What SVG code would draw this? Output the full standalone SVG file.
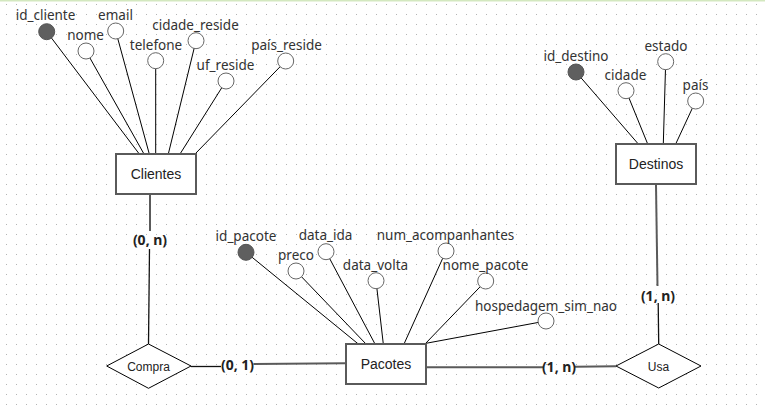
<svg xmlns="http://www.w3.org/2000/svg" width="765" height="412" viewBox="0 0 765 412">
<style>
.ent{fill:#fff;stroke:#5a5a5a;stroke-width:2}
.rel{fill:#fff;stroke:#000;stroke-width:1}
.att{fill:#fff;stroke:#666;stroke-width:1}
.key{fill:#5f5f5f;stroke:#555;stroke-width:1}
.al{stroke:#000;stroke-width:1;fill:none}
.rg{stroke:#5a5a5a;stroke-width:2;fill:none}
.rb{stroke:#111;stroke-width:1.3;fill:none}
.et{font-family:"Liberation Sans",Arial,sans-serif;font-size:14px;fill:#222;text-anchor:middle}
.rt{font-family:"Liberation Sans",Arial,sans-serif;font-size:12px;fill:#222;text-anchor:middle}
.at{font-family:"Noto Sans","Open Sans",sans-serif;font-size:13.5px;fill:#333;text-anchor:middle}
.ct{font-family:"Noto Sans","Open Sans",sans-serif;font-size:14px;font-weight:bold;fill:#222;text-anchor:middle}
</style>
<defs>
<pattern id="grid" x="6" y="4" width="10" height="10" patternUnits="userSpaceOnUse">
<rect x="0" y="0" width="1" height="1" fill="#b4b4b4"/>
</pattern>
</defs>
<rect x="0" y="0" width="765" height="412" fill="#fff"/>
<rect x="0" y="0" width="765" height="412" fill="url(#grid)"/>
<rect x="0" y="0" width="765" height="1.5" fill="#d3e8bf"/>

<g id="connectors">
<!-- Clientes attributes -->
<line class="al" x1="46.7" y1="31.7" x2="139.3" y2="154"/>
<line class="al" x1="86" y1="51" x2="144" y2="154"/>
<line class="al" x1="115.7" y1="31" x2="149.3" y2="154"/>
<line class="al" x1="155.7" y1="60.7" x2="155.7" y2="154"/>
<line class="al" x1="196" y1="40.7" x2="168.3" y2="154"/>
<line class="al" x1="226" y1="81" x2="180" y2="154"/>
<line class="al" x1="285.7" y1="61" x2="195" y2="154"/>
<!-- Destinos attributes -->
<line class="al" x1="576" y1="72" x2="638.3" y2="144"/>
<line class="al" x1="626" y1="90.7" x2="647.7" y2="144"/>
<line class="al" x1="665.7" y1="61.7" x2="663.3" y2="144"/>
<line class="al" x1="695.7" y1="101" x2="675.7" y2="144"/>
<!-- Pacotes attributes -->
<line class="al" x1="246" y1="252.3" x2="358.3" y2="344"/>
<line class="al" x1="296" y1="271" x2="366" y2="344"/>
<line class="al" x1="326" y1="251.7" x2="375" y2="344"/>
<line class="al" x1="376" y1="280.7" x2="383.3" y2="344"/>
<line class="al" x1="446" y1="251" x2="404" y2="344"/>
<line class="al" x1="485.7" y1="281" x2="425" y2="344"/>
<line class="al" x1="546" y1="321" x2="426" y2="343.3"/>
<!-- Relationship lines -->
<line class="rg" x1="150" y1="195" x2="150" y2="231"/>
<line class="rb" x1="149.5" y1="249" x2="148.5" y2="344"/>
<line class="rb" x1="191" y1="366.5" x2="221" y2="366.5"/>
<line class="rg" x1="253.5" y1="364" x2="345" y2="363.3"/>
<line class="rg" x1="427" y1="367.3" x2="544" y2="367.3"/>
<line class="rg" x1="575" y1="366.8" x2="616" y2="366.3"/>
<line class="rg" x1="656" y1="185" x2="657.5" y2="286"/>
<line class="rb" x1="658.2" y1="303" x2="658.7" y2="344"/>
<text class="ct" x="150" y="245">(0, n)</text>
<text class="ct" x="237.5" y="370">(0, 1)</text>
<text class="ct" x="559" y="372">(1, n)</text>
<text class="ct" x="658" y="301">(1, n)</text>
</g>

<g id="clientes">
<rect class="ent" x="116" y="154" width="80" height="40"/>
<text class="et" x="156" y="179">Clientes</text>
</g>
<g id="destinos">
<rect class="ent" x="616" y="144" width="80" height="40"/>
<text class="et" x="656" y="169">Destinos</text>
</g>
<g id="pacotes">
<rect class="ent" x="346" y="344" width="80" height="40"/>
<text class="et" x="386" y="369">Pacotes</text>
</g>
<g id="compra">
<polygon class="rel" points="148.5,344 191,366 148.5,388.3 106.7,366"/>
<text class="rt" x="148.5" y="370.5">Compra</text>
</g>
<g id="usa">
<polygon class="rel" points="658.7,344 701,366 658.7,388 616,366"/>
<text class="rt" x="658.5" y="370.5">Usa</text>
</g>

<g id="attr-id_cliente"><circle class="key" cx="46.7" cy="31.7" r="8"/><text class="at" x="45.5" y="20">id_cliente</text></g>
<g id="attr-nome"><circle class="att" cx="86" cy="51" r="8"/><text class="at" x="85.5" y="40">nome</text></g>
<g id="attr-email"><circle class="att" cx="115.7" cy="31" r="8"/><text class="at" x="115.5" y="20">email</text></g>
<g id="attr-telefone"><circle class="att" cx="155.7" cy="60.7" r="8"/><text class="at" x="156" y="50">telefone</text></g>
<g id="attr-cidade_reside"><circle class="att" cx="196" cy="40.7" r="8"/><text class="at" x="195.5" y="30">cidade_reside</text></g>
<g id="attr-uf_reside"><circle class="att" cx="226" cy="81" r="8"/><text class="at" x="225.5" y="70">uf_reside</text></g>
<g id="attr-pais_reside"><circle class="att" cx="285.7" cy="61" r="8"/><text class="at" x="286.5" y="50">país_reside</text></g>

<g id="attr-id_destino"><circle class="key" cx="576" cy="72" r="8"/><text class="at" x="576" y="61">id_destino</text></g>
<g id="attr-cidade"><circle class="att" cx="626" cy="90.7" r="8"/><text class="at" x="625.5" y="80">cidade</text></g>
<g id="attr-estado"><circle class="att" cx="665.7" cy="61.7" r="8"/><text class="at" x="666" y="51">estado</text></g>
<g id="attr-pais"><circle class="att" cx="695.7" cy="101" r="8"/><text class="at" x="695.5" y="90">país</text></g>

<g id="attr-id_pacote"><circle class="key" cx="246" cy="252.3" r="8"/><text class="at" x="246" y="241">id_pacote</text></g>
<g id="attr-preco"><circle class="att" cx="296" cy="271" r="8"/><text class="at" x="296" y="260">preco</text></g>
<g id="attr-data_ida"><circle class="att" cx="326" cy="251.7" r="8"/><text class="at" x="325.5" y="240">data_ida</text></g>
<g id="attr-data_volta"><circle class="att" cx="376" cy="280.7" r="8"/><text class="at" x="375.5" y="270">data_volta</text></g>
<g id="attr-num_acompanhantes"><circle class="att" cx="446" cy="251" r="8"/><text class="at" x="445.5" y="240">num_acompanhantes</text></g>
<g id="attr-nome_pacote"><circle class="att" cx="485.7" cy="281" r="8"/><text class="at" x="485.5" y="270">nome_pacote</text></g>
<g id="attr-hospedagem_sim_nao"><circle class="att" cx="546" cy="321" r="8"/><text class="at" x="546" y="311">hospedagem_sim_nao</text></g>
</svg>
